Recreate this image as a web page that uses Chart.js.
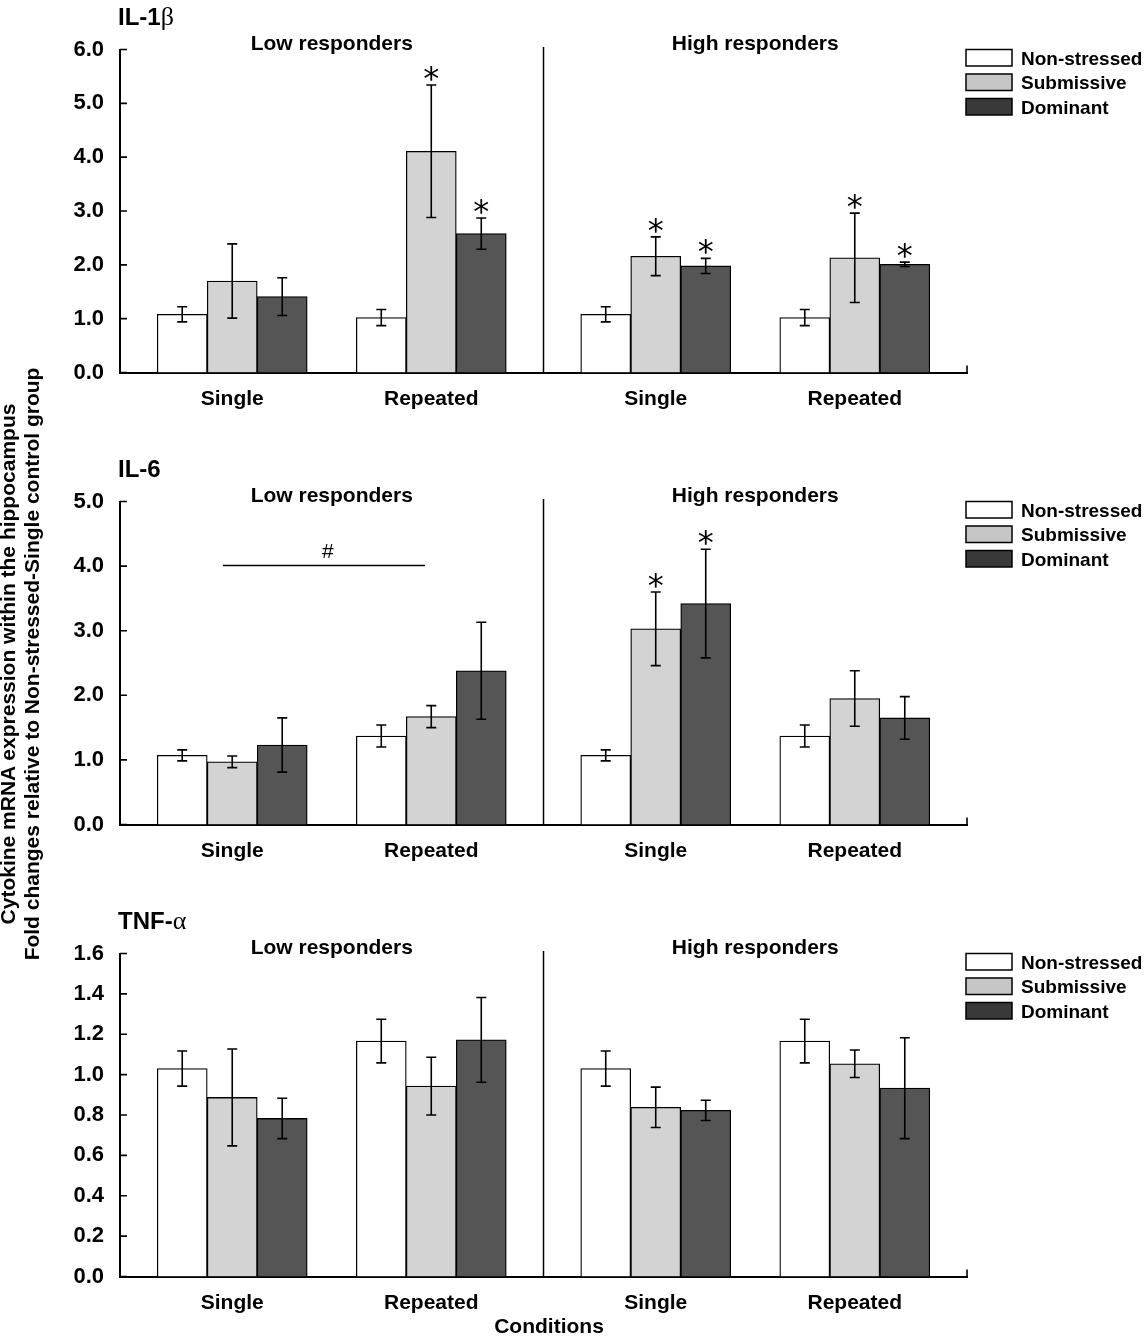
<!DOCTYPE html>
<html>
<head>
<meta charset="utf-8">
<title>Cytokine mRNA expression within the hippocampus</title>
<script src="https://cdn.jsdelivr.net/npm/chart.js@4.4.1/dist/chart.umd.min.js"></script>
<style>
  body { margin: 0; background: #fff; }
  #page { position: relative; width: 1144px; height: 1341px; overflow: hidden; font-family: 'Liberation Sans', Arial, sans-serif; }
  #page canvas { position: absolute; left: 0; }
  #ytitle {
    position: absolute; width: 700px; left: -330px; top: 640px;
    line-height: 24px; font-size: 21px; font-weight: bold;
    text-align: center; white-space: nowrap; color: #000;
    transform: rotate(-90deg);
  }
</style>
</head>
<body>
<div id="page">
  <canvas id="il1b" width="1144" height="452" style="top:0px"></canvas>
  <canvas id="il6" width="1144" height="452" style="top:452px"></canvas>
  <canvas id="tnfa" width="1144" height="437" style="top:904px"></canvas>
  <div id="ytitle">Cytokine mRNA expression within the hippocampus<br>Fold changes relative to Non-stressed-Single control group</div>
</div>
<script>
// order of the four bar groups: low single, low repeated, high single, high repeated
const conditions = ['Single', 'Repeated', 'Single', 'Repeated'];
const responders = ['Low responders', 'High responders'];
const groups = ['Non-stressed', 'Submissive', 'Dominant'];

// IL-1beta
const il1bNonStressed = [1.08, 1.02, 1.08, 1.02];
const il1bSubmissive = [1.70, 4.11, 2.16, 2.13];
const il1bDominant = [1.41, 2.58, 1.98, 2.01];
const il1bNonStressedErr = [0.14, 0.15, 0.14, 0.15];
const il1bSubmissiveErr = [0.69, 1.23, 0.36, 0.83];
const il1bDominantErr = [0.35, 0.29, 0.14, 0.04];
const il1bSubmissiveSig = [0, 1, 1, 1];
const il1bDominantSig = [0, 1, 1, 1];

// IL-6
const il6NonStressed = [1.07, 1.37, 1.07, 1.37];
const il6Submissive = [0.97, 1.67, 3.03, 1.95];
const il6Dominant = [1.23, 2.38, 3.42, 1.65];
const il6NonStressedErr = [0.085, 0.17, 0.085, 0.17];
const il6SubmissiveErr = [0.09, 0.17, 0.57, 0.43];
const il6DominantErr = [0.42, 0.75, 0.84, 0.33];
const il6SubmissiveSig = [0, 0, 1, 0];
const il6DominantSig = [0, 0, 1, 0];

// TNF-alpha
const tnfNonStressed = [1.03, 1.166, 1.03, 1.166];
const tnfSubmissive = [0.887, 0.943, 0.838, 1.054];
const tnfDominant = [0.783, 1.172, 0.823, 0.933];
const tnfNonStressedErr = [0.087, 0.108, 0.087, 0.108];
const tnfSubmissiveErr = [0.24, 0.143, 0.10, 0.068];
const tnfDominantErr = [0.10, 0.21, 0.05, 0.25];
const noSig = [0, 0, 0, 0];

const barColors = ['#ffffff', '#d3d3d3', '#555555'];
const legendColors = ['#ffffff', '#c6c6c6', '#393939'];
const FONT = '"Liberation Sans", Arial, sans-serif';

// x axis runs 0..4, each responder half is 2 wide
function groupPos(i) {
  return Math.floor(i / 2) * 2 + (i % 2 ? 1.47 : 0.53);
}

const panelDecor = {
  id: 'panelDecor',
  afterDatasetsDraw(chart) {
    const ctx = chart.ctx;
    const y = chart.scales.y;
    ctx.save();
    ctx.strokeStyle = '#000';
    ctx.fillStyle = '#000';
    ctx.lineWidth = 1.6;
    chart.data.datasets.forEach((ds, d) => {
      chart.getDatasetMeta(d).data.forEach((bar, i) => {
        const v = ds.data[i].y, e = ds.errors[i];
        const yt = y.getPixelForValue(v + e), yb = y.getPixelForValue(v - e);
        ctx.beginPath();
        ctx.moveTo(bar.x, yt); ctx.lineTo(bar.x, yb);
        ctx.moveTo(bar.x - 5, yt); ctx.lineTo(bar.x + 5, yt);
        ctx.moveTo(bar.x - 5, yb); ctx.lineTo(bar.x + 5, yb);
        ctx.stroke();
        if (ds.sig[i]) {
          ctx.font = '32px "DejaVu Sans", sans-serif';
          ctx.textAlign = 'center';
          ctx.textBaseline = 'alphabetic';
          const m = ctx.measureText('*');
          const cy = yt - 11.5;
          ctx.fillText('*', bar.x, cy + (m.actualBoundingBoxAscent - m.actualBoundingBoxDescent) / 2);
        }
      });
    });
    ctx.restore();
  },
  afterDraw(chart, args, opts) {
    const ctx = chart.ctx;
    const area = chart.chartArea;
    const x = chart.scales.x, y = chart.scales.y;
    ctx.save();
    ctx.strokeStyle = '#000';
    ctx.fillStyle = '#000';

    // inward ticks
    ctx.lineWidth = 1.6;
    ctx.beginPath();
    y.ticks.forEach(t => {
      const py = y.getPixelForValue(t.value);
      ctx.moveTo(area.left, py); ctx.lineTo(area.left + 7, py);
    });
    ctx.moveTo(area.right, area.bottom); ctx.lineTo(area.right, area.bottom - 7);
    ctx.stroke();

    // divider between low and high responders
    const xm = x.getPixelForValue(2);
    ctx.lineWidth = 1.5;
    ctx.beginPath();
    ctx.moveTo(xm, area.top - 2.5); ctx.lineTo(xm, area.bottom);
    ctx.stroke();

    ctx.textBaseline = 'alphabetic';
    ctx.font = 'bold 21px ' + FONT;
    ctx.textAlign = 'center';
    responders.forEach((r, k) => ctx.fillText(r, x.getPixelForValue(1 + 2 * k), area.top));

    // panel title
    ctx.textAlign = 'left';
    ctx.font = 'bold 24px ' + FONT;
    ctx.fillText(opts.title, 118, area.top - 25);
    const w = ctx.measureText(opts.title).width;
    ctx.font = '26px "Liberation Serif", serif';
    ctx.fillText(opts.greek, 118 + w, area.top - 25);

    // legend
    ctx.font = 'bold 19px ' + FONT;
    ctx.lineWidth = 1.5;
    chart.data.datasets.forEach((ds, k) => {
      const top = area.top + k * 24.5;
      ctx.fillStyle = legendColors[k];
      ctx.fillRect(966, top, 46, 16.5);
      ctx.strokeRect(966, top, 46, 16.5);
      ctx.fillStyle = '#000';
      ctx.fillText(ds.label, 1021, top + 8.25 + 6.8);
    });

    // # bracket
    if (opts.hash) {
      const py = y.getPixelForValue(opts.hash.y);
      const x0 = x.getPixelForValue(opts.hash.from), x1 = x.getPixelForValue(opts.hash.to);
      ctx.lineWidth = 1.5;
      ctx.beginPath(); ctx.moveTo(x0, py); ctx.lineTo(x1, py); ctx.stroke();
      ctx.font = '21px ' + FONT;
      ctx.textAlign = 'center';
      const m = ctx.measureText('#');
      ctx.fillText('#', (x0 + x1) / 2 + 4, py - 14 + (m.actualBoundingBoxAscent - m.actualBoundingBoxDescent) / 2);
    }

    if (opts.xTitle) {
      ctx.font = 'bold 21px ' + FONT;
      ctx.textAlign = 'center';
      ctx.fillText(opts.xTitle, xm + 5.5, area.bottom + 56);
    }
    ctx.restore();
  }
};

function makeChart(canvasId, panel) {
  const canvas = document.getElementById(canvasId);
  const datasets = groups.map((name, g) => ({
    label: name,
    data: panel.values[g].map((v, i) => ({x: groupPos(i), y: v})),
    errors: panel.errors[g],
    sig: panel.sig[g],
    backgroundColor: barColors[g],
    borderColor: '#000',
    borderWidth: 1.3,
    barThickness: 50
  }));
  return new Chart(canvas, {
    type: 'bar',
    data: {datasets: datasets},
    options: {
      responsive: false,
      animation: false,
      layout: {padding: {left: 0, right: 177, top: 49.5, bottom: 0}},
      plugins: {
        legend: {display: false},
        tooltip: {enabled: false},
        panelDecor: {title: panel.title, greek: panel.greek, hash: panel.hash, xTitle: panel.xTitle}
      },
      scales: {
        x: {
          type: 'linear',
          min: 0,
          max: 4,
          offset: false,
          grid: {display: false, drawTicks: false, offset: false},
          border: {display: true, color: '#000', width: 2},
          afterBuildTicks: s => { s.ticks = conditions.map((c, i) => ({value: groupPos(i)})); },
          afterFit: s => { s.height = canvas.height - 372.5; },
          ticks: {
            callback: (v, i) => conditions[i],
            font: {family: FONT, size: 21, weight: 'bold'},
            color: '#000',
            padding: 14,
            maxRotation: 0,
            autoSkip: false
          }
        },
        y: {
          min: 0,
          max: panel.max,
          grid: {display: false, drawTicks: false},
          border: {display: true, color: '#000', width: 2},
          afterFit: s => { s.width = 120; },
          ticks: {
            stepSize: panel.step,
            callback: v => v.toFixed(1),
            font: {family: FONT, size: 22, weight: 'bold'},
            color: '#000',
            padding: 16
          }
        }
      }
    },
    plugins: [panelDecor]
  });
}

makeChart('il1b', {
  title: 'IL-1', greek: 'β', max: 6, step: 1,
  values: [il1bNonStressed, il1bSubmissive, il1bDominant],
  errors: [il1bNonStressedErr, il1bSubmissiveErr, il1bDominantErr],
  sig: [noSig, il1bSubmissiveSig, il1bDominantSig]
});
makeChart('il6', {
  title: 'IL-6', greek: '', max: 5, step: 1,
  values: [il6NonStressed, il6Submissive, il6Dominant],
  errors: [il6NonStressedErr, il6SubmissiveErr, il6DominantErr],
  sig: [noSig, il6SubmissiveSig, il6DominantSig],
  hash: {from: 0.486, to: 1.44, y: 4.01}
});
makeChart('tnfa', {
  title: 'TNF-', greek: 'α', max: 1.6, step: 0.2,
  values: [tnfNonStressed, tnfSubmissive, tnfDominant],
  errors: [tnfNonStressedErr, tnfSubmissiveErr, tnfDominantErr],
  sig: [noSig, noSig, noSig],
  xTitle: 'Conditions'
});
</script>
</body>
</html>
